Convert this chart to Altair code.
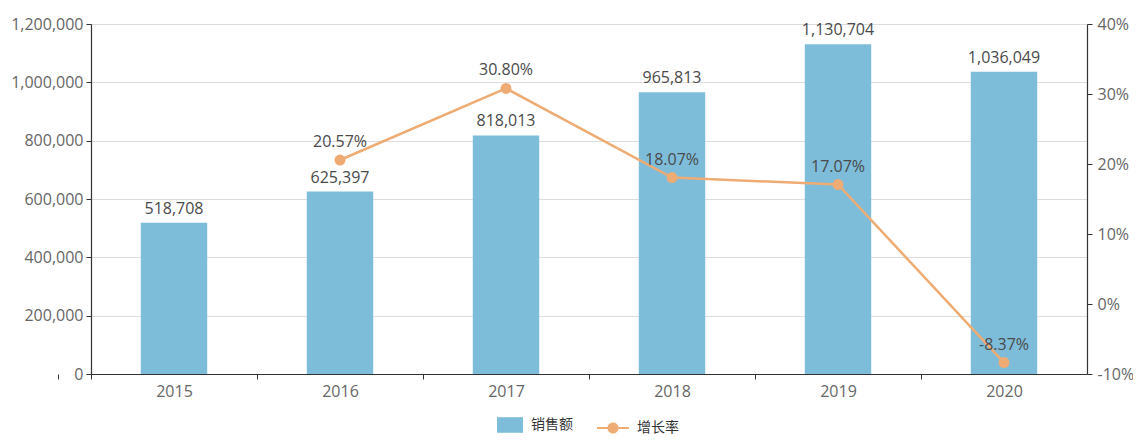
import altair as alt
import pandas as pd

years = ["2015", "2016", "2017", "2018", "2019", "2020"]
sales = [518708, 625397, 818013, 965813, 1130704, 1036049]
growth_years = ["2016", "2017", "2018", "2019", "2020"]
growth = [20.57, 30.80, 18.07, 17.07, -8.37]

left_ticks = [0, 200000, 400000, 600000, 800000, 1000000, 1200000]
right_ticks = [-10, 0, 10, 20, 30, 40]

BAR = "#7dbdda"
ORANGE = "#eeab73"
FONT = "Open Sans"
CJK = "Noto Sans CJK SC"
W, H = 996, 350
STEP = W / len(years)

df_bar = pd.DataFrame({"year": years, "sales": sales, "series": "销售额"})
df_line = pd.DataFrame({"year": growth_years, "growth": growth, "series": "增长率"})
df_line["label"] = [f"{v:.2f}%" for v in growth]

x_axis = alt.Axis(
    title=None, labelAngle=0, domainColor="#333333",
    tickColor="#333333", tickSize=5, labelColor="#666666", labelFontSize=16,
    labelFont=FONT, labelPadding=4, grid=False, domainWidth=1.2,
    tickOffset=-STEP / 2, labelOffset=STEP / 2, tickExtra=True,
)
x_enc = alt.X("year:N", sort=years,
              scale=alt.Scale(domain=years, paddingInner=0.6, paddingOuter=0.3),
              axis=x_axis)

y_left_scale = alt.Scale(domain=[0, 1200000], nice=False)
y_left = alt.Y(
    "sales:Q",
    scale=y_left_scale,
    axis=alt.Axis(
        title=None, values=left_ticks, format=",d", orient="left",
        domainColor="#333333", tickColor="#333333", tickSize=5, domainWidth=1.2,
        labelColor="#666666", labelFontSize=16, labelFont=FONT, labelPadding=3,
        grid=True, gridColor="#dcdcdc", gridWidth=1,
    ),
)

bar_rect_path = "M-1,-0.6H1V0.6H-1Z"
line_dot_path = (
    "M-1,-0.06H-0.345A0.35,0.35 0 0,1 0.345,-0.06H1V0.06H0.345"
    "A0.35,0.35 0 0,1 -0.345,0.06H-1Z"
)

bars = alt.Chart(df_bar).mark_bar(opacity=1).encode(
    x=x_enc,
    y=y_left,
    color=alt.Color(
        "series:N",
        scale=alt.Scale(domain=["销售额"], range=[BAR]),
        legend=alt.Legend(
            title=None, orient="none", legendX=406, legendY=388,
            symbolType=bar_rect_path, symbolSize=676, symbolStrokeWidth=0,
            labelFont=CJK, labelFontSize=14, labelColor="#333333", labelOffset=8,
        ),
    ),
)
bar_text = alt.Chart(df_bar).mark_text(
    dy=-9, baseline="alphabetic", font=FONT, fontSize=16, color="#4a4a4a"
).encode(
    x=x_enc,
    y=y_left,
    text=alt.Text("sales:Q", format=",d"),
)
bar_layer = alt.layer(bars, bar_text)

y_right_scale = alt.Scale(domain=[-10, 40], nice=False)
y_right = alt.Y(
    "growth:Q",
    scale=y_right_scale,
    axis=alt.Axis(
        title=None, values=right_ticks, labelExpr="datum.value + '%'", orient="right",
        domainColor="#333333", tickColor="#333333", tickSize=5, domainWidth=1.2,
        labelColor="#666666", labelFontSize=16, labelFont=FONT, labelPadding=5,
        grid=False,
    ),
)

line = alt.Chart(df_line).mark_line(color=ORANGE, strokeWidth=2.5).encode(
    x=x_enc, y=y_right,
)
points = alt.Chart(df_line).mark_point(filled=True, size=120, opacity=1).encode(
    x=x_enc,
    y=y_right,
    color=alt.Color(
        "series:N",
        scale=alt.Scale(domain=["增长率"], range=[ORANGE]),
        legend=alt.Legend(
            title=None, orient="none", legendX=506, legendY=388,
            symbolType=line_dot_path, symbolSize=1024, symbolStrokeWidth=0,
            labelFont=CJK, labelFontSize=14, labelColor="#333333", labelOffset=8,
        ),
    ),
)
line_text = alt.Chart(df_line).mark_text(
    dy=-13, baseline="alphabetic", font=FONT, fontSize=16, color="#4a4a4a"
).encode(
    x=x_enc,
    y=y_right,
    text="label:N",
)
line_layer = alt.layer(line, points, line_text)

chart = alt.layer(bar_layer, line_layer).resolve_scale(
    y="independent", color="independent"
).properties(
    width=W, height=H,
    autosize=alt.AutoSizeParams(type="none"),
    padding={"left": 83, "top": 16, "right": 46, "bottom": 61},
).configure(background="white").configure_view(stroke=None)

chart.save("out.html", embed_options={"renderer": "svg", "actions": False})
